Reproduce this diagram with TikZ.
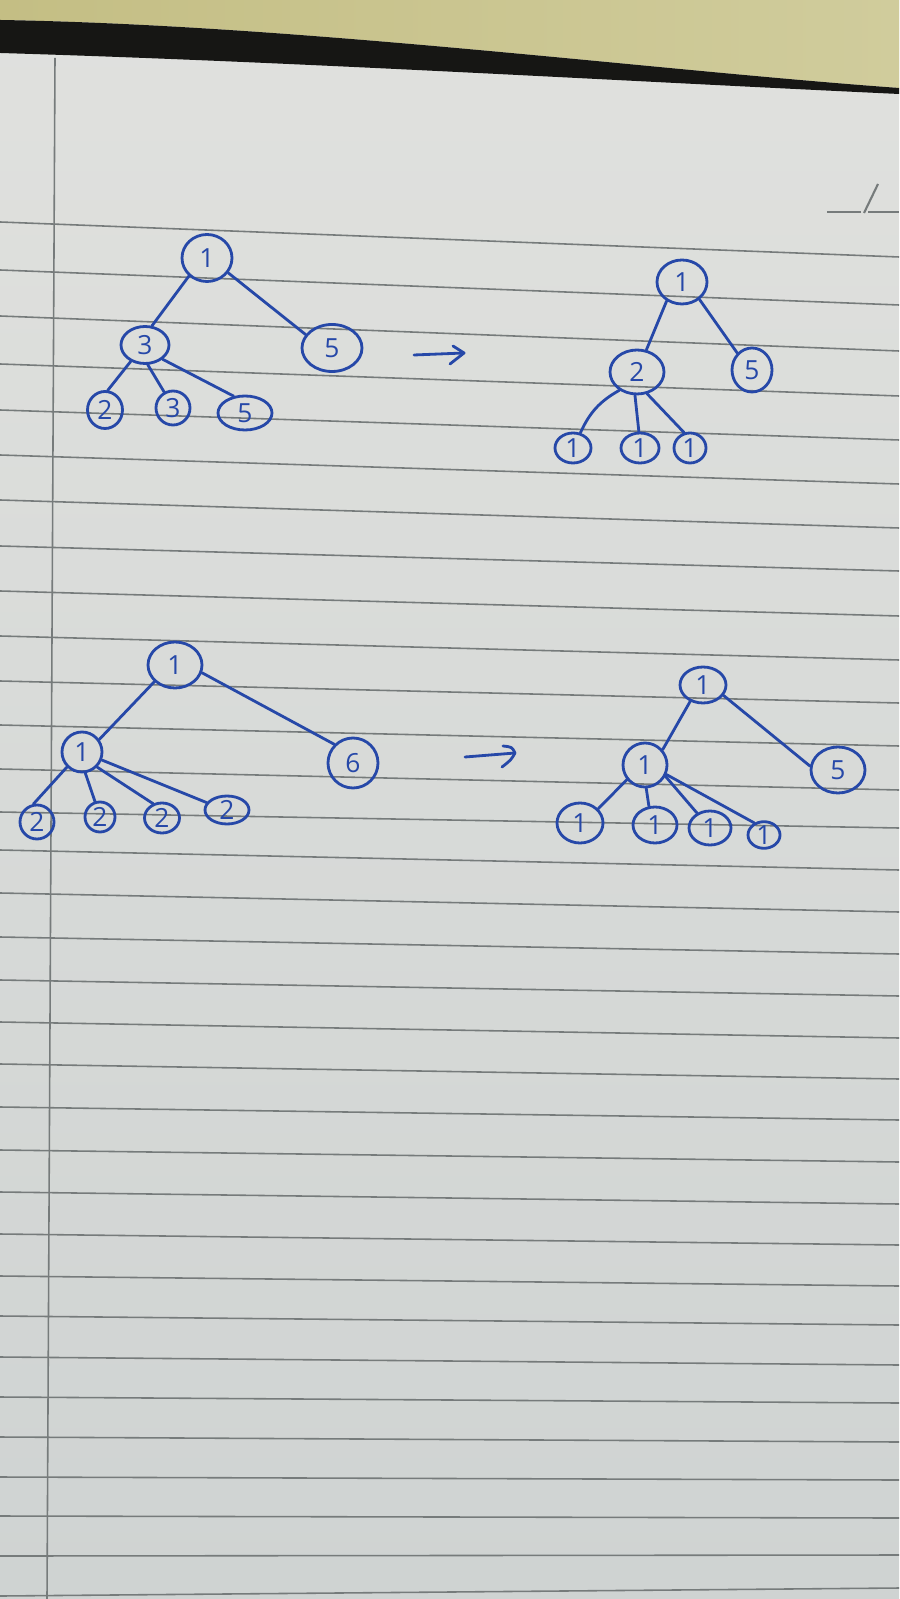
\documentclass[tikz,border=0pt]{standalone}
\usepackage{fontspec}
\setsansfont{Open Sans}
\usetikzlibrary{shapes.geometric}
\definecolor{ink}{RGB}{38,72,168}
\definecolor{rulegray}{RGB}{118,123,123}
\definecolor{pagetop}{RGB}{224,225,222}
\definecolor{pagebot}{RGB}{207,211,210}
\definecolor{deskA}{RGB}{196,190,132}
\definecolor{deskB}{RGB}{208,204,156}
\definecolor{gap}{RGB}{22,22,20}
\begin{document}
\begin{tikzpicture}[x=0.1mm,y=-0.1mm,
  nd/.style 2 args={ellipse, draw=ink, line width=0.8pt, text=ink, inner sep=0pt,
    minimum width=#1mm, minimum height=#2mm, font=\sffamily\fontsize{7.5}{8}\selectfont},
  edge/.style={draw=ink, line width=0.8pt, line cap=round, line join=round},
  rule/.style={draw=rulegray, line width=0.45pt}]
\useasboundingbox (0,0) rectangle (899,1599);

% paper
\shade[top color=pagetop, bottom color=pagebot] (0,0) rectangle (899,1599);
% desk surface behind the page
\shade[left color=deskA, right color=deskB]
  (0,0) -- (899,0) -- (899,88) .. controls (650,70) and (300,25) .. (0,20) -- cycle;
% dark gap between desk and page edge
\fill[gap] (0,20) .. controls (300,25) and (650,70) .. (899,88)
  -- (899,94) .. controls (600,80) and (300,62) .. (0,53) -- cycle;

% ruled lines
\foreach \a/\b in {222/257,270/305,316/351,364/396,410/440,455/484,500/528,546/571,
  591/616,636/660,681/703,725/746,769/790,812/828,850/870,893/912,937/954,980/996,
  1022/1038,1064/1079,1107/1120,1150/1162,1192/1204,1234/1245,1276/1286,1316/1325,
  1357/1365,1397/1403,1437/1442,1477/1480,1516/1518,1556/1555,1596/1588}
  \draw[rule] (0,\a) -- (899,\b);
% margin line
\draw[rule] (55,58) -- (47,1599);
% date field
\draw[rule, line width=0.6pt] (827,212) -- (861,212);
\draw[rule, line width=0.6pt] (864,213) -- (878,184);
\draw[rule, line width=0.6pt] (868,212) -- (899,212);

% ---- tree A ----
\node[nd={5.0}{4.7}] (a1) at (207,258) {1};
\node[nd={4.8}{3.7}] (a3) at (145,345) {3};
\node[nd={6.0}{4.7}] (a5) at (332,348) {5};
\node[nd={3.5}{3.7}] (a2b) at (105,410) {2};
\node[nd={3.4}{3.4}] (a3b) at (173,408) {3};
\node[nd={5.4}{3.4}] (a5b) at (245,413) {5};
\draw[edge] (a1.-135) -- (a3.70);
\draw[edge] (a1.-35) -- (a5.153);
\draw[edge] (a3.-131) -- (a2b.82);
\draw[edge] (a3.-82) -- (a3b.119);
\draw[edge] (a3.-39) -- (a5b.124);

% arrow A -> B
\coordinate (p1s) at (414,355);
\coordinate (p1e) at (464,353);
\coordinate (p1u) at (453,346);
\coordinate (p1d) at (450,364);
\draw[edge] (p1s) -- (p1e);
\draw[edge] (p1u) -- (p1e) -- (p1d);

% ---- tree B ----
\node[nd={5.0}{4.4}] (b1) at (682,282) {1};
\node[nd={5.4}{4.4}] (b2) at (637,372) {2};
\node[nd={4.0}{4.4}] (b5) at (752,370) {5};
\node[nd={3.6}{3.0}] (b1a) at (573,448) {1};
\node[nd={3.8}{3.0}] (b1b) at (640,448) {1};
\node[nd={3.2}{3.0}] (b1c) at (690,448) {1};
\draw[edge] (b1.-129) -- (b2.67);
\draw[edge] (b1.-45) -- (b5.131);
\draw[edge] (b2.-134) to[bend right=18] (b1a.64);
\draw[edge] (b2.-95) -- (b1b.94);
\draw[edge] (b2.-65) -- (b1c.111);

% ---- tree C ----
\node[nd={5.4}{4.6}] (c1) at (175,665) {1};
\node[nd={4.0}{4.0}] (c1m) at (82,752) {1};
\node[nd={5.0}{5.0}] (c6) at (353,763) {6};
\node[nd={3.4}{3.4}] (c2a) at (37,822) {2};
\node[nd={3.0}{3.0}] (c2b) at (100,817) {2};
\node[nd={3.5}{3.0}] (c2c) at (162,818) {2};
\node[nd={4.4}{2.8}] (c2d) at (227,810) {2};
\draw[edge] (c1.-141) -- (c1m.36);
\draw[edge] (c1.-16) -- (c6.135);
\draw[edge] (c1m.-135) -- (c2a.101);
\draw[edge] (c1m.-81) -- (c2b.108);
\draw[edge] (c1m.-45) -- (c2c.122);
\draw[edge] (c1m.-22) -- (c2d.160);

% arrow C -> D
\coordinate (p2s) at (465,757);
\coordinate (p2e) at (515,753);
\coordinate (p2u) at (503,746);
\coordinate (p2d) at (502,767);
\draw[edge] (p2s) -- (p2e);
\draw[edge] (p2u) .. controls (512,747) .. (p2e) .. controls (511,760) .. (p2d);

% ---- tree D ----
\node[nd={4.6}{3.6}] (d1) at (703,685) {1};
\node[nd={4.4}{4.4}] (d1m) at (645,765) {1};
\node[nd={5.4}{4.6}] (d5) at (838,770) {5};
\node[nd={4.6}{4.0}] (d1a) at (580,823) {1};
\node[nd={4.4}{3.6}] (d1b) at (655,825) {1};
\node[nd={4.2}{3.4}] (d1c) at (710,828) {1};
\node[nd={3.2}{2.6}] (d1d) at (764,835) {1};
\draw[edge] (d1.-128) -- (d1m.41);
\draw[edge] (d1.-27) -- (d5.172);
\draw[edge] (d1m.-141) -- (d1a.38);
\draw[edge] (d1m.-87) -- (d1b.108);
\draw[edge] (d1m.-29) -- (d1c.131);
\draw[edge] (d1m.-24) -- (d1d.129);
\end{tikzpicture}
\end{document}
